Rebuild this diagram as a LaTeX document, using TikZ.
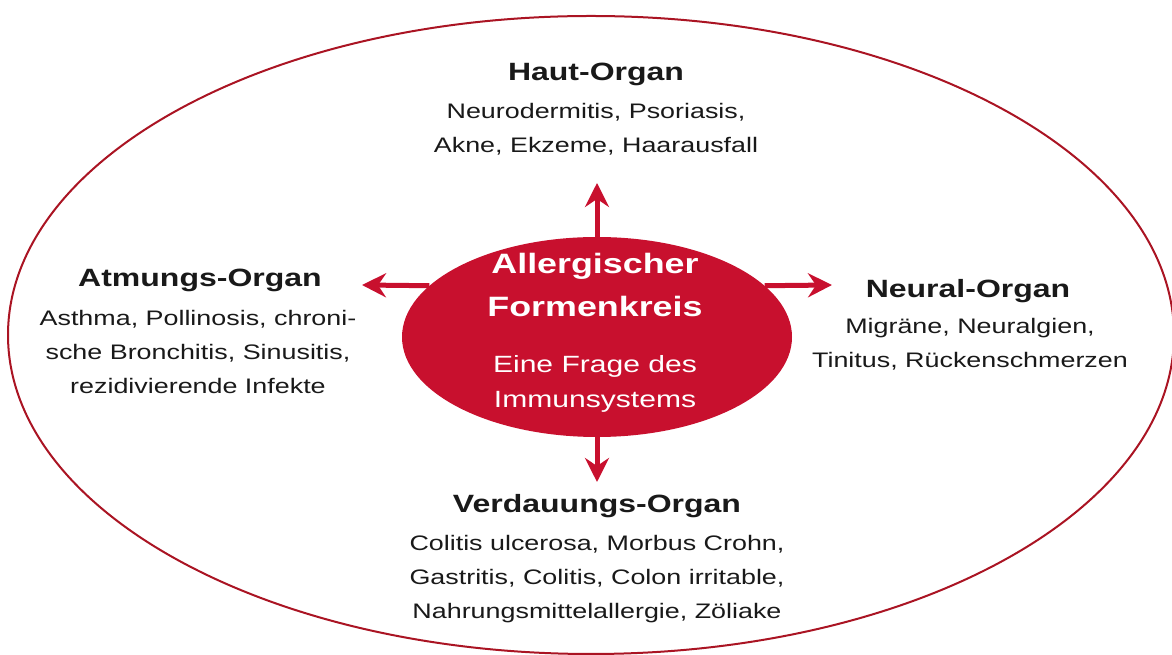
\documentclass[tikz,border=0pt]{standalone}
\usepackage{fontspec}
\setmainfont{Liberation Sans}
\usetikzlibrary{arrows.meta,shapes.geometric,positioning}
\definecolor{allred}{RGB}{200,16,46}
\definecolor{rimred}{RGB}{170,20,35}
\definecolor{ink}{RGB}{25,25,25}

\begin{document}
\begin{tikzpicture}[x=1pt, y=1pt, >={Stealth[length=24pt, width=24pt, inset=8pt]},
    organ/.style={text=ink, font=\fontsize{25}{30}\selectfont\bfseries, xscale=1.28, inner sep=0pt},
    ills/.style={text=ink, font=\fontsize{21}{34}\selectfont, align=center, xscale=1.28, inner sep=0pt},
    core-text/.style={text=white, align=center, xscale=1.28, inner sep=0pt}]
    \useasboundingbox (0,0) rectangle (1172,655);
    \draw [rimred, line width=2pt] (591,320) ellipse [x radius=583, y radius=319];
    \node [ellipse, fill=allred, minimum width=390pt, minimum height=200pt, inner sep=0pt] (core) at (597,318) {};
    \node [core-text, font=\fontsize{28}{43}\selectfont\bfseries, anchor=north] (kreis) at (595,402) {Allergischer\\ Formenkreis};
    \node [core-text, font=\fontsize{23.5}{35}\selectfont, anchor=north] (frage) at (595,300) {Eine Frage des\\ Immunsystems};
    % organs
    \node [organ, anchor=base] (haut) at (596,574) {Haut-Organ};
    \node [ills, anchor=north] (haut-ills) at (596,552) {Neurodermitis, Psoriasis,\\ Akne, Ekzeme, Haarausfall};
    \node [organ, anchor=base] (atmung) at (200,368) {Atmungs-Organ};
    \node [ills, anchor=north] (atmung-ills) at (198,345) {Asthma, Pollinosis, chroni-\\ sche Bronchitis, Sinusitis,\\ rezidivierende Infekte};
    \node [organ, anchor=base] (neural) at (968,357) {Neural-Organ};
    \node [ills, anchor=north] (neural-ills) at (970,337) {Migräne, Neuralgien,\\ Tinitus, Rückenschmerzen};
    \node [organ, anchor=base] (verdau) at (597,142) {Verdauungs-Organ};
    \node [ills, anchor=north] (verdau-ills) at (597,120) {Colitis ulcerosa, Morbus Crohn,\\ Gastritis, Colitis, Colon irritable,\\ Nahrungsmittelallergie, Zöliake};
    % arrows
    \coordinate (up-tip) at (597,472);
    \coordinate (left-tip) at (362,370);
    \coordinate (right-tip) at (832,370);
    \coordinate (down-tip) at (597,173);
    \draw [->, allred, line width=5pt] (core.north) -- (up-tip);
    \draw [->, allred, line width=5pt] (core.163) -- (left-tip);
    \draw [->, allred, line width=5pt] (core.17) -- (right-tip);
    \draw [->, allred, line width=5pt] (core.south) -- (down-tip);
\end{tikzpicture}
\end{document}
